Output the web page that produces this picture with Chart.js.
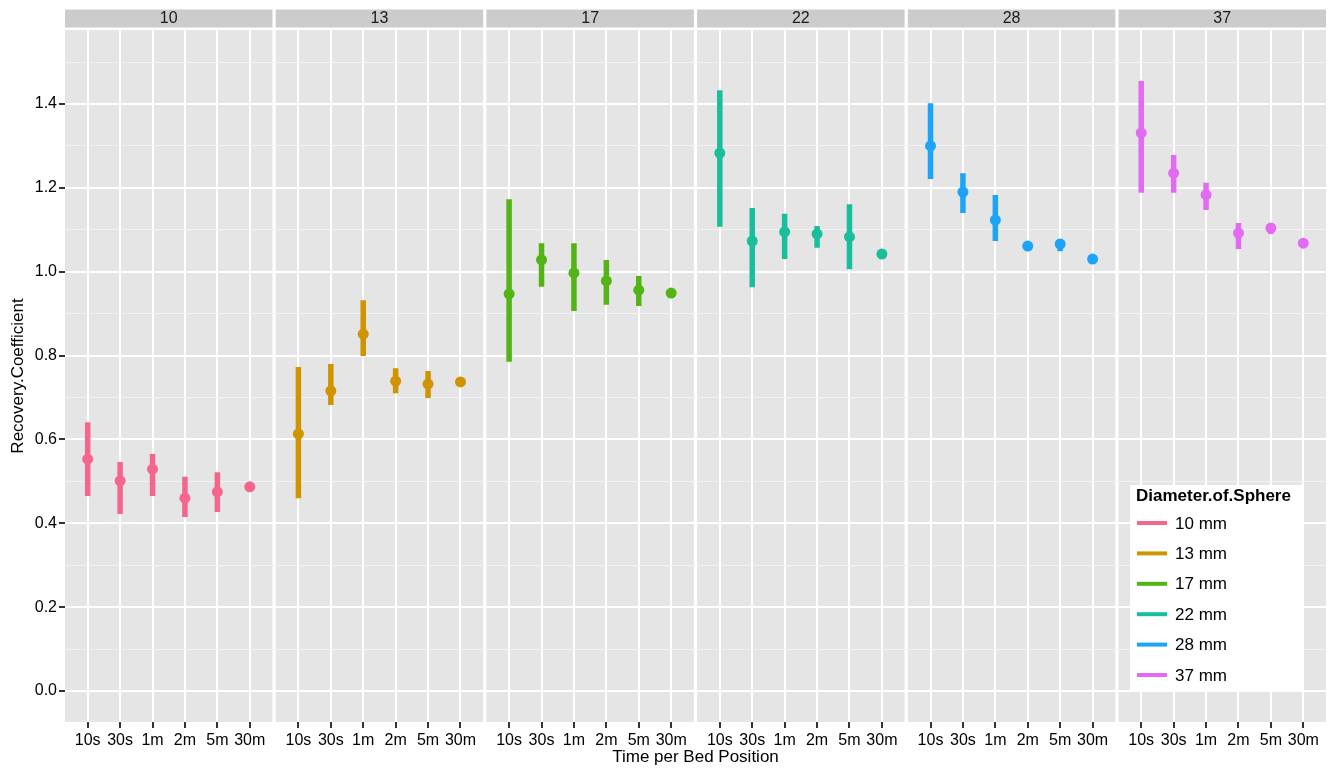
<!DOCTYPE html>
<html>
<head>
<meta charset="utf-8">
<script src="https://cdn.jsdelivr.net/npm/chart.js@4.4.1/dist/chart.umd.min.js"></script>
<style>
  html, body { margin: 0; padding: 0; background: #fff; }
  #box { width: 1333px; height: 768px; }
  canvas { background: #fff; }
</style>
</head>
<body>
<div id="box"><canvas id="grafico"></canvas></div>
<script>
// Categorias
const tempos = ['10s', '30s', '1m', '2m', '5m', '30m'];
const diametros = ['10', '13', '17', '22', '28', '37'];
const cores = ['#F5668D', '#CF9400', '#52B415', '#19BE9C', '#1BA4F8', '#E36BF2'];

// Valores (média, mínimo, máximo) por diâmetro
const media10 = [0.553, 0.501, 0.529, 0.460, 0.475, 0.487];
const min10   = [0.465, 0.422, 0.465, 0.415, 0.427, 0.487];
const max10   = [0.641, 0.546, 0.565, 0.511, 0.522, 0.487];

const media13 = [0.613, 0.716, 0.851, 0.739, 0.732, 0.737];
const min13   = [0.460, 0.682, 0.799, 0.710, 0.699, 0.737];
const max13   = [0.773, 0.780, 0.932, 0.770, 0.763, 0.737];

const media17 = [0.947, 1.028, 0.997, 0.978, 0.956, 0.949];
const min17   = [0.785, 0.964, 0.906, 0.921, 0.918, 0.949];
const max17   = [1.173, 1.068, 1.068, 1.028, 0.990, 0.949];

const media22 = [1.283, 1.073, 1.095, 1.090, 1.083, 1.042];
const min22   = [1.107, 0.963, 1.030, 1.057, 1.006, 1.042];
const max22   = [1.433, 1.152, 1.138, 1.109, 1.161, 1.042];

const media28 = [1.300, 1.190, 1.123, 1.061, 1.066, 1.030];
const min28   = [1.221, 1.140, 1.073, 1.054, 1.049, 1.030];
const max28   = [1.402, 1.235, 1.183, 1.071, 1.078, 1.030];

const media37 = [1.331, 1.235, 1.183, 1.092, 1.104, 1.068];
const min37   = [1.188, 1.188, 1.147, 1.054, 1.090, 1.068];
const max37   = [1.455, 1.278, 1.212, 1.116, 1.116, 1.068];

const medias = [media10, media13, media17, media22, media28, media37];
const minimos = [min10, min13, min17, min22, min28, min37];
const maximos = [max10, max13, max17, max22, max28, max37];

// Geometria dos painéis (em unidades do eixo x)
const larguraPainel = 6.4;
const passoPainel = 6.5;
const margemPainel = 0.7;
const fonte = "'Liberation Sans', Arial, sans-serif";

function posX(p, t) {
    return p * passoPainel + margemPainel + t;
}

const datasets = [];
diametros.forEach(function(d, p) {
    const segs = [];
    tempos.forEach(function(t, i) {
        if (maximos[p][i] > minimos[p][i]) {
            segs.push({ x: posX(p, i), y: minimos[p][i] });
            segs.push({ x: posX(p, i), y: maximos[p][i] });
            segs.push({ x: posX(p, i), y: null });
        }
    });
    datasets.push({
        type: 'line',
        label: d + ' mm',
        data: segs,
        borderColor: cores[p],
        borderWidth: 5.5,
        borderCapStyle: 'butt',
        pointRadius: 0,
        spanGaps: false,
        fill: false
    });
    datasets.push({
        type: 'scatter',
        label: d + ' mm pontos',
        data: medias[p].map(function(v, i) { return { x: posX(p, i), y: v }; }),
        backgroundColor: cores[p],
        borderWidth: 0,
        pointRadius: 5.5
    });
});

const posicoesX = [];
diametros.forEach(function(d, p) {
    tempos.forEach(function(t, i) { posicoesX.push(posX(p, i)); });
});

// Fundo cinza dos painéis e faixas com os títulos
const painelPlugin = {
    id: 'paineis',
    beforeDraw: function(chart) {
        const ctx = chart.ctx;
        const area = chart.chartArea;
        const xs = chart.scales.x;
        ctx.save();
        diametros.forEach(function(d, p) {
            const x0 = xs.getPixelForValue(p * passoPainel);
            const x1 = xs.getPixelForValue(p * passoPainel + larguraPainel);
            ctx.fillStyle = '#E5E5E5';
            ctx.fillRect(x0, area.top, x1 - x0, area.bottom - area.top);
            ctx.fillStyle = '#CCCCCC';
            ctx.fillRect(x0, 9.5, x1 - x0, 18);
            ctx.fillStyle = '#1a1a1a';
            ctx.font = '16px ' + fonte;
            ctx.textAlign = 'center';
            ctx.textBaseline = 'middle';
            ctx.fillText(d, (x0 + x1) / 2, 19);
        });
        ctx.restore();
    },
    afterDraw: function(chart) {
        // Legenda dentro do último painel
        const ctx = chart.ctx;
        const area = chart.chartArea;
        const bx = area.right - 196, by = area.bottom - 237;
        ctx.save();
        ctx.fillStyle = '#ffffff';
        ctx.fillRect(bx, by, 174, 206);
        ctx.fillStyle = '#000';
        ctx.font = 'bold 17px ' + fonte;
        ctx.textAlign = 'left';
        ctx.textBaseline = 'middle';
        ctx.fillText('Diameter.of.Sphere', bx + 6, by + 11);
        diametros.forEach(function(d, p) {
            const y = by + 38 + p * 30.4;
            ctx.strokeStyle = cores[p];
            ctx.lineWidth = 4;
            ctx.beginPath();
            ctx.moveTo(bx + 7, y);
            ctx.lineTo(bx + 37, y);
            ctx.stroke();
            ctx.fillStyle = '#000';
            ctx.font = '17px ' + fonte;
            ctx.fillText(d + ' mm', bx + 45, y + 1);
        });
        ctx.restore();
    }
};

const ctx = document.getElementById('grafico').getContext('2d');
const chart = new Chart(ctx, {
    data: { datasets: datasets },
    options: {
        responsive: true,
        maintainAspectRatio: false,
        animation: false,
        layout: { padding: { top: 30, right: 7, left: 8, bottom: 0 } },
        plugins: {
            legend: { display: false },
            tooltip: { enabled: false }
        },
        scales: {
            x: {
                type: 'linear',
                min: 0,
                max: 5 * passoPainel + larguraPainel,
                afterBuildTicks: function(scale) {
                    scale.ticks = posicoesX.map(function(v) { return { value: v }; });
                },
                afterFit: function(scale) { scale.height = 46; },
                grid: {
                    color: '#ffffff',
                    lineWidth: 2,
                    drawTicks: true,
                    tickLength: 6,
                    tickColor: '#333'
                },
                border: { display: false },
                ticks: {
                    autoSkip: false,
                    maxRotation: 0,
                    padding: 3,
                    color: '#000',
                    font: { family: fonte, size: 16 },
                    callback: function(v, i) { return tempos[i % tempos.length]; }
                },
                title: {
                    display: true,
                    text: 'Time per Bed Position',
                    color: '#000',
                    padding: 0,
                    font: { family: fonte, size: 17 }
                }
            },
            y: {
                type: 'linear',
                min: -0.0739,
                max: 1.5764,
                afterBuildTicks: function(scale) {
                    const lista = [];
                    for (let k = 0; k <= 15; k++) lista.push({ value: k / 10 });
                    scale.ticks = lista;
                },
                afterFit: function(scale) { scale.width = 57; },
                grid: {
                    color: function(c) {
                        return (Math.round(c.tick.value * 10) % 2 === 0) ? '#ffffff' : '#F2F2F2';
                    },
                    lineWidth: function(c) {
                        return (Math.round(c.tick.value * 10) % 2 === 0) ? 2 : 1;
                    },
                    drawTicks: true,
                    tickLength: 6,
                    tickColor: function(c) {
                        return (Math.round(c.tick.value * 10) % 2 === 0) ? '#333' : 'rgba(0,0,0,0)';
                    }
                },
                border: { display: false },
                ticks: {
                    padding: 2,
                    color: '#000',
                    font: { family: fonte, size: 16 },
                    callback: function(v) {
                        const k = Math.round(v * 10);
                        return (k % 2 === 0) ? (k / 10).toFixed(1) : '';
                    }
                },
                title: {
                    display: true,
                    text: 'Recovery.Coefficient',
                    color: '#000',
                    padding: 0,
                    font: { family: fonte, size: 17 }
                }
            }
        }
    },
    plugins: [painelPlugin]
});
</script>
</body>
</html>
